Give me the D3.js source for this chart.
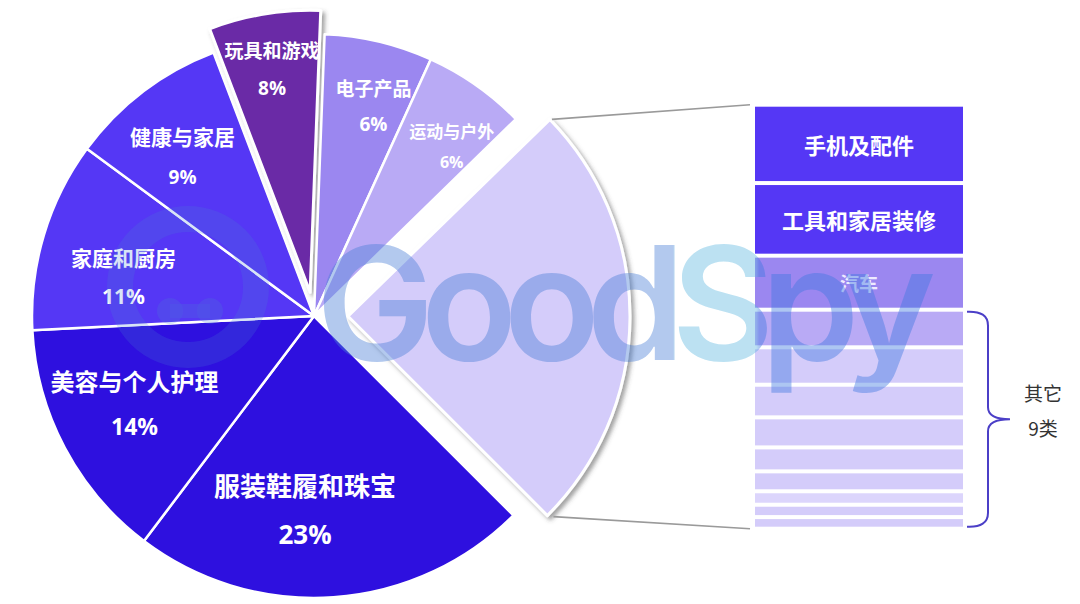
<!DOCTYPE html>
<html><head><meta charset="utf-8">
<script src="https://cdn.jsdelivr.net/npm/d3@7/dist/d3.min.js"></script>
<style>
html,body{margin:0;padding:0;background:#fff;}
svg{display:block;font-family:"Noto Sans CJK SC","Noto Sans",sans-serif;}
</style></head>
<body>
<svg id="chart" width="1080" height="604"></svg>
<script>
// ---- data ----
const pieCategories = ["服装鞋履和珠宝","美容与个人护理","家庭和厨房","健康与家居","玩具和游戏","电子产品","运动与户外","其它"];
const pieValues = [22.8, 13.9, 10.9, 9.1, 6.4, 6.2, 5.9, 24.8];
const pieLabels = ["23%","14%","11%","9%","8%","6%","6%",""];
const pieColors = ["#2E10DF","#2E10DF","#5537F5","#5537F5","#6A2AA6","#9B87F0","#B9AAF5","#D4CCFA"];
const barCategories = ["手机及配件","工具和家居装修","汽车","其它1","其它2","其它3","其它4","其它5","其它6","其它7","其它8","其它9"];
const barValues = [4.25, 3.94, 2.93, 2.04, 2.03, 1.77, 1.63, 1.30, 1.08, 0.73, 0.67, 0.63];
const barLabels = ["手机及配件","工具和家居装修","汽车","","","","","","","","",""];
const barColors = ["#5537F5","#5537F5","#9B87F0","#B9AAF5","#D4CCFA","#D4CCFA","#D4CCFA","#D4CCFA","#D4CCFA","#DCD5FC","#D4CCFA","#D4CCFA"];
const otherLabel = ["其它","9类"];

// ---- layout ----
const svg = d3.select("#chart");
const cx = 314, cy = 316, R = 282;
const deg = Math.PI/180;
const explode = {4: 24, 7: 34};
const nameSize = [26,24,21,21,19,19,17];
const pctSize  = [26,23,21,19,19,19,16];
const lineGap  = [25,23,19.5,20.5,19,18,15.5];
const nudge = [[-23,-9.5],[0,-8],[4,19],[-8.5,2],[-5,-23],[12.7,-12.5],[21,-3.5]];

const defs = svg.append("defs");
const f = defs.append("filter").attr("id","sh").attr("x","-20%").attr("y","-20%").attr("width","140%").attr("height","140%");
f.append("feDropShadow").attr("dx",3).attr("dy",3).attr("stdDeviation",2.2).attr("flood-color","#444").attr("flood-opacity",0.5);

const pie = d3.pie().sort(null).value(d=>d).startAngle(135*deg).endAngle(495*deg);
const arcs = pie(pieValues);
const arc = d3.arc().innerRadius(0).outerRadius(R);

function offsetOf(i, a){
  const e = explode[i] || 0;
  const m = (a.startAngle + a.endAngle)/2;
  return [e*Math.sin(m), -e*Math.cos(m)];
}

const g = svg.append("g").attr("transform",`translate(${cx},${cy})`);
g.selectAll("path.slice").data(arcs).join("path")
  .attr("class","slice")
  .attr("d", arc)
  .attr("transform",(d,i)=>{const o=offsetOf(i,d);return `translate(${o[0]},${o[1]})`;})
  .attr("fill",(d,i)=>pieColors[i])
  .attr("stroke","#fff").attr("stroke-width",(d,i)=>explode[i]?3:2.5)
  .attr("stroke-linejoin","round")
  .attr("filter",(d,i)=>explode[i]?"url(#sh)":null);

// labels
const labR = R*0.72;
arcs.forEach((d,i)=>{
  if(!pieLabels[i]) return;
  const m = (d.startAngle+d.endAngle)/2;
  const o = offsetOf(i,d);
  const x = o[0] + labR*Math.sin(m) + nudge[i][0];
  const y = o[1] - labR*Math.cos(m) + nudge[i][1];
  g.append("text").attr("x",x).attr("y",y-lineGap[i]).attr("text-anchor","middle")
    .attr("dominant-baseline","central").attr("fill","#fff").attr("font-weight","bold")
    .attr("font-size",nameSize[i]).text(pieCategories[i]);
  g.append("text").attr("x",x).attr("y",y+lineGap[i]).attr("text-anchor","middle")
    .attr("dominant-baseline","central").attr("fill","#fff").attr("font-weight","bold")
    .attr("font-family","'Open Sans','DejaVu Sans',sans-serif")
    .attr("font-size",pctSize[i]).text(pieLabels[i]);
});

// ---- bar ----
const barX0 = 755, barX1 = 963, gap = 4;
const total = d3.sum(barValues);
const y = d3.scaleLinear().domain([0,total]).range([106.7, 530.7]);
let cum = 0;
const segs = barValues.map((v,i)=>{const s={y0:cum,y1:cum+v,i:i};cum+=v;return s;});
const bg = svg.append("g");
bg.selectAll("rect").data(segs).join("rect")
  .attr("x",barX0).attr("width",barX1-barX0)
  .attr("y",d=>y(d.y0)).attr("height",d=>y(d.y1)-y(d.y0)-gap)
  .attr("fill",d=>barColors[d.i]);
const bFont=[22,22,19];
bg.selectAll("text").data(segs.filter(d=>barLabels[d.i])).join("text")
  .attr("x",(barX0+barX1)/2).attr("y",d=>(y(d.y0)+y(d.y1)-gap)/2)
  .attr("text-anchor","middle").attr("dominant-baseline","central")
  .attr("font-weight","bold").attr("font-size",d=>bFont[d.i]||14)
  .attr("fill",d=>d.i===2?"#EEEBFF":"#fff")
  .text(d=>barLabels[d.i]);

// ---- connector lines ----
const oa = arcs[7], oo = offsetOf(7,oa);
const topPt = [cx+oo[0]+R*Math.sin(oa.startAngle), cy+oo[1]-R*Math.cos(oa.startAngle)];
const botPt = [cx+oo[0]+R*Math.sin(oa.endAngle), cy+oo[1]-R*Math.cos(oa.endAngle)];
svg.append("line").attr("x1",topPt[0]+2).attr("y1",topPt[1]).attr("x2",barX0-5).attr("y2",y(0)-2)
  .attr("stroke","#9a9a9a").attr("stroke-width",1.6);
svg.append("line").attr("x1",botPt[0]+6).attr("y1",botPt[1]+1).attr("x2",barX0-5).attr("y2",y(total)-gap+2)
  .attr("stroke","#9a9a9a").attr("stroke-width",1.6);

// ---- brace ----
const bTop = y(segs[3].y0), bBot = y(total)-gap;
const bx = 967, bv = 988, mid = (bTop+bBot)/2;
const brace = d3.path();
brace.moveTo(bx,bTop);
brace.quadraticCurveTo(bv,bTop-1,bv,bTop+14);
brace.lineTo(bv,mid-12);
brace.quadraticCurveTo(bv,mid,bv+22,mid);
brace.quadraticCurveTo(bv,mid,bv,mid+12);
brace.lineTo(bv,bBot-14);
brace.quadraticCurveTo(bv,bBot+1,bx,bBot);
svg.append("path").attr("d",brace.toString()).attr("fill","none").attr("stroke","#4B3FC7").attr("stroke-width",2);
svg.append("text").attr("x",1043).attr("y",392).attr("text-anchor","middle").attr("dominant-baseline","central")
  .attr("font-size",19).attr("fill","#333").text(otherLabel[0]);
svg.append("text").attr("x",1043).attr("y",427).attr("text-anchor","middle").attr("dominant-baseline","central")
  .attr("font-size",19).attr("fill","#333").text(otherLabel[1]);

// ---- watermark ----
const grad = defs.append("linearGradient").attr("id","wm").attr("gradientUnits","userSpaceOnUse")
  .attr("x1",318).attr("x2",935).attr("y1",0).attr("y2",0);
[[0,"#4a7fd6"],[0.575,"#4a7fd6"],[0.58,"#5fb8e0"],[0.71,"#5fb8e0"],[0.715,"#3d78e0"],[1,"#3d78e0"]]
  .forEach(s=>grad.append("stop").attr("offset",s[0]).attr("stop-color",s[1]));
const wm = svg.append("g").attr("opacity",0.42).style("pointer-events","none");
wm.append("circle").attr("cx",188).attr("cy",287).attr("r",68).attr("fill","none")
  .attr("stroke","#4a7fd6").attr("stroke-width",26).attr("opacity",0.5);
wm.append("circle").attr("cx",170).attr("cy",311).attr("r",13).attr("fill","#4a7fd6").attr("opacity",0.55);
wm.append("circle").attr("cx",210).attr("cy",311).attr("r",13).attr("fill","#4a7fd6").attr("opacity",0.55);
wm.append("rect").attr("x",170).attr("y",304).attr("width",40).attr("height",14).attr("fill","#4a7fd6").attr("opacity",0.55);
wm.append("text").attr("x",316).attr("y",360).attr("font-family","Inter,'Open Sans',sans-serif")
  .attr("font-weight",600).attr("font-size",158).attr("textLength",620).attr("lengthAdjust","spacing")
  .attr("fill","url(#wm)").text("GoodSpy");
</script>
</body></html>
